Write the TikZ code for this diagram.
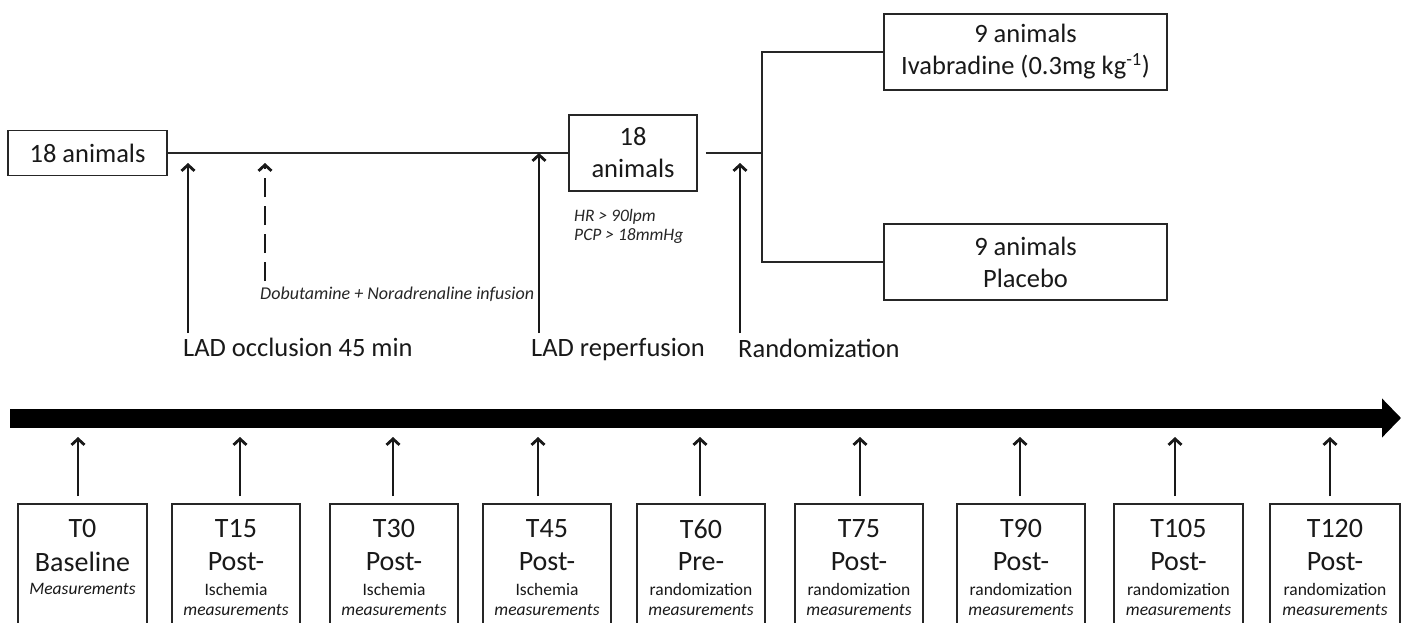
\documentclass[tikz,border=0pt]{standalone}
\usepackage{fontspec}
\setmainfont{Carlito}
\usetikzlibrary{arrows.meta}
\newcommand\fbig{\fontsize{26.5}{32}\selectfont}
\newcommand\fbot{\fontsize{28}{30}\selectfont}
\newcommand\fsm{\fontsize{17.5}{19.5}\selectfont}
\newcommand\fdob{\fontsize{18}{21}\selectfont}
\begin{document}
\begin{tikzpicture}[x=1pt,y=-1pt,
  box/.style={draw=black!85, line width=1.8pt, inner sep=0pt, align=center, text=black!90, font=\fbig},
  conn/.style={draw=black!85, line width=2pt},
  up/.style={draw=black!90, line width=2.8pt, -{Straight Barb[length=6pt,width=13pt,line width=2.8pt]}},
  lbl/.style={anchor=base west, inner sep=0pt, text=black!90, font=\fbig},
  small/.style={inner sep=0pt, text=black!85, font=\fsm\itshape},
  tbox/.style={draw=black!85, line width=1.8pt, inner sep=0pt, anchor=north},
  ttext/.style={inner sep=0pt, text=black!90}
]
\useasboundingbox (0,0) rectangle (1410,623);
\clip (0,0) rectangle (1410,623);
\fill[white] (0,0) rectangle (1410,623);

% ---------- top part ----------
\node[box, minimum width=159pt, minimum height=45pt] (a) at (87.5,153) {18 animals};
\node[box, minimum width=128pt, minimum height=76pt] (b) at (633,153) {18\\animals};
\node[box, minimum width=283pt, minimum height=76pt] (iva) at (1025.5,52) {9 animals\\Ivabradine (0.3mg kg\textsuperscript{-1})};
\node[box, minimum width=283pt, minimum height=76pt] (pla) at (1025.5,262) {9 animals\\Placebo};

\coordinate (j) at (762,153);
\coordinate (bo) at ([xshift=8pt]b.east);
\draw[conn] (a.east) -- (b.west);
\draw[conn] (bo) -- (j);
\draw[conn] (iva.west) -| (j) |- (pla.west);

\node[small, anchor=north west, align=left] (hr) at (574,209) {HR > 90lpm\\PCP > 18mmHg};

\node[lbl] (occ) at (183,356) {LAD occlusion 45 min};
\node[lbl] (rep) at (531,356) {LAD reperfusion};
\node[lbl] (rnd) at (738,357) {Randomization};
\node[inner sep=0pt, text=black!85, font=\fdob\itshape, anchor=west] (dob) at (260,294) {Dobutamine + Noradrenaline infusion};

\coordinate (occT) at (188,333); \coordinate (occH) at (188,163);
\coordinate (dobT) at (265,281); \coordinate (dobH) at (265,163);
\coordinate (repT) at (539,333); \coordinate (repH) at (539,153);
\coordinate (rndT) at (740,333); \coordinate (rndH) at (740,163);
\draw[up] (occT) -- (occH);
\draw[up, dash pattern=on 19pt off 9pt] (dobT) -- (dobH);
\draw[up] (repT) -- (repH);
\draw[up] (rndT) -- (rndH);

% ---------- timeline ----------
\coordinate (tl0) at (10,418);
\coordinate (tl1) at (1401,418);
\draw[black, line width=19pt, -{Triangle[length=19pt,width=38pt]}] (tl0) -- (tl1);

% ---------- measurement boxes ----------
\foreach \n/\xl/\xr/\ax/\ta/\tb/\tc in {
  t15/172/300/240/T15/Post-/Ischemia,
  t30/330/458/393/T30/Post-/Ischemia,
  t45/483/611/538/T45/Post-/Ischemia,
  t60/637/765/700/T60/Pre-/randomization,
  t75/795/923/860/T75/Post-/randomization,
  t90/957/1085/1020/T90/Post-/randomization,
  t105/1114/1243/1175/T105/Post-/randomization,
  t120/1270/1400/1330/T120/Post-/randomization}{
  \node[tbox, minimum width={\xr-\xl}, minimum height=140pt] (\n) at ({(\xl+\xr)/2},503) {};
  \node[ttext, font=\fbot] at ({(\xl+\xr)/2},529) {\ta};
  \node[ttext, font=\fbot] at ({(\xl+\xr)/2},562) {\tb};
  \node[ttext, font=\fsm] at ({(\xl+\xr)/2},589) {\tc};
  \node[ttext, font=\fsm\itshape] at ({(\xl+\xr)/2},610) {measurements};
  \coordinate (\n T) at (\ax,496);
  \coordinate (\n H) at (\ax,437);
  \draw[up] (\n T) -- (\n H);
}
\node[tbox, minimum width=129pt, minimum height=140pt] (t0) at (82.5,503) {};
\node[ttext, font=\fbot] at (82.5,529) {T0};
\node[ttext, font=\fbot] at (82.5,562) {Baseline};
\node[ttext, font=\fsm\itshape] at (82.5,589) {Measurements};
\coordinate (t0T) at (78,496);
\coordinate (t0H) at (78,437);
\draw[up] (t0T) -- (t0H);
\end{tikzpicture}
\end{document}
